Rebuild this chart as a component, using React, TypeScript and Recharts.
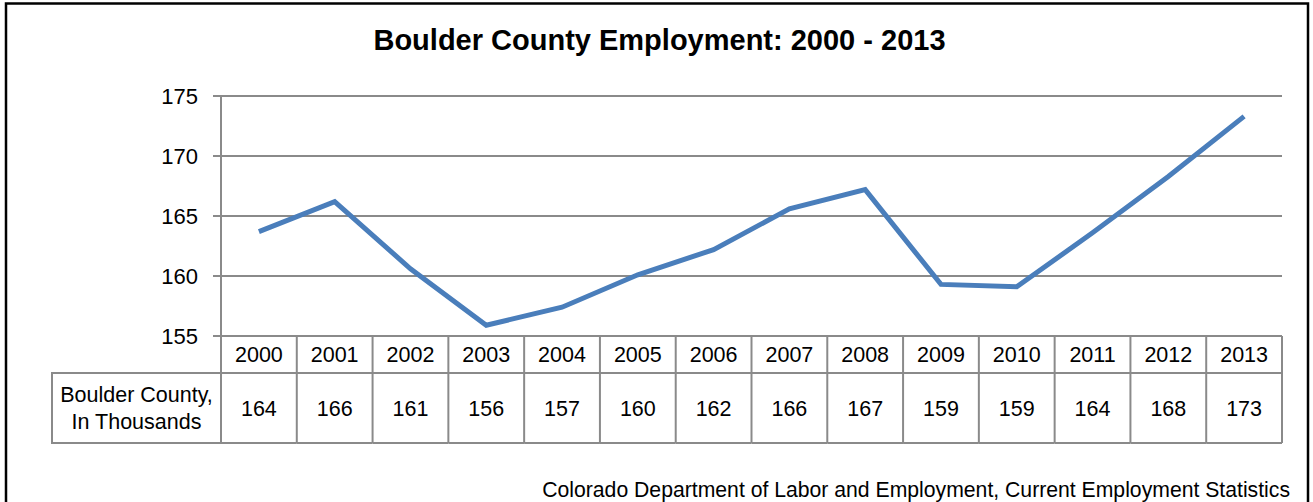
import { LineChart, Line, XAxis, YAxis, CartesianGrid } from 'recharts';

const years = ['2000', '2001', '2002', '2003', '2004', '2005', '2006', '2007', '2008', '2009', '2010', '2011', '2012', '2013'];
const employment = [163.7, 166.2, 160.6, 155.9, 157.4, 160.1, 162.2, 165.6, 167.2, 159.3, 159.1, 163.6, 168.3, 173.3];
const tableValues = ['164', '166', '161', '156', '157', '160', '162', '166', '167', '159', '159', '164', '168', '173'];
const yTicks = [155, 160, 165, 170, 175];
const rowLabel = ['Boulder County,', 'In Thousands'];

const title = 'Boulder County Employment: 2000 - 2013';
const source = 'Colorado Department of Labor and Employment, Current Employment Statistics';

const W = 1313;
const H = 502;
const PLOT_LEFT = 221;
const PLOT_RIGHT = 1282;
const PLOT_TOP = 96;
const PLOT_BOTTOM = 336;
const Y_AXIS_W = 60;
const X_AXIS_H = 110;
const HEADER_H = 37;
const VALUE_H = 70;
const LABEL_LEFT = 52;
const GRID = '#8A8A8A';
const LINE_BLUE = '#4A7EBB';
const FONT = '"Liberation Sans", Arial, Helvetica, sans-serif';

const BAND = (PLOT_RIGHT - PLOT_LEFT) / years.length;

const data = years.map((year, i) => ({ year, value: employment[i] }));

// draws the data table under the plot, one column per category tick
function TableTick(props: any) {
  const { x, y, payload } = props;
  const i = payload.index;
  const left = x - BAND / 2;
  const right = x + BAND / 2;
  const mid = y + HEADER_H;
  const bottom = mid + VALUE_H;
  const cellText = { fontSize: 21.5, fill: '#000', fontFamily: FONT };
  return (
    <g>
      <line x1={right} y1={y} x2={right} y2={bottom} stroke={GRID} strokeWidth={2} />
      <line x1={left} y1={mid} x2={right} y2={mid} stroke={GRID} strokeWidth={2} />
      <line x1={left} y1={bottom} x2={right} y2={bottom} stroke={GRID} strokeWidth={2} />
      {i === 0 && (
        <>
          <line x1={left} y1={y} x2={left} y2={bottom} stroke={GRID} strokeWidth={2} />
          <rect x={LABEL_LEFT} y={mid} width={left - LABEL_LEFT} height={VALUE_H} fill="none" stroke={GRID} strokeWidth={2} />
          <text x={(LABEL_LEFT + left) / 2} y={mid + VALUE_H / 2 - 14} dy="0.36em" textAnchor="middle" style={cellText}>
            {rowLabel[0]}
          </text>
          <text x={(LABEL_LEFT + left) / 2} y={mid + VALUE_H / 2 + 13} dy="0.36em" textAnchor="middle" style={cellText}>
            {rowLabel[1]}
          </text>
        </>
      )}
      <text x={x} y={y + HEADER_H / 2} dy="0.36em" textAnchor="middle" style={cellText}>
        {payload.value}
      </text>
      <text x={x} y={mid + VALUE_H / 2} dy="0.36em" textAnchor="middle" style={cellText}>
        {tableValues[i]}
      </text>
    </g>
  );
}

export default function App() {
  return (
    <div style={{ position: 'absolute', left: 0, top: 0, width: W, height: H, overflow: 'hidden', background: '#fff', fontFamily: FONT }}>
      <svg width={W} height={H} style={{ position: 'absolute', left: 0, top: 0 }}>
        <rect x={6} y={3.5} width={1302} height={620} fill="none" stroke="#000" strokeWidth={2.5} />
        <text x={659.5} y={49.5} textAnchor="middle" style={{ fontSize: 29, fontWeight: 700, fill: '#000', fontFamily: FONT }}>
          {title}
        </text>
        <text x={1290} y={496.5} textAnchor="end" style={{ fontSize: 21.2, fill: '#000', fontFamily: FONT }}>
          {source}
        </text>
      </svg>
      <div style={{ position: 'absolute', left: 0, top: 0 }}>
        <LineChart
          width={W}
          height={H}
          data={data}
          margin={{ top: PLOT_TOP, right: W - PLOT_RIGHT, left: PLOT_LEFT - Y_AXIS_W, bottom: H - PLOT_BOTTOM - X_AXIS_H }}
        >
          <CartesianGrid vertical={false} stroke={GRID} strokeWidth={2} />
          <XAxis
            dataKey="year"
            scale="band"
            interval={0}
            height={X_AXIS_H}
            tickLine={false}
            tickSize={0}
            tickMargin={0}
            axisLine={{ stroke: GRID, strokeWidth: 2 }}
            tick={<TableTick />}
          />
          <YAxis
            domain={[155, 175]}
            ticks={yTicks}
            width={Y_AXIS_W}
            tickSize={8}
            tickMargin={15}
            tickLine={{ stroke: GRID, strokeWidth: 2 }}
            axisLine={{ stroke: GRID, strokeWidth: 2 }}
            tick={{ fontSize: 22, fill: '#000', fontFamily: FONT }}
            allowDataOverflow
          />
          <Line
            type="linear"
            dataKey="value"
            stroke={LINE_BLUE}
            strokeWidth={5}
            dot={false}
            isAnimationActive={false}
          />
        </LineChart>
      </div>
    </div>
  );
}
